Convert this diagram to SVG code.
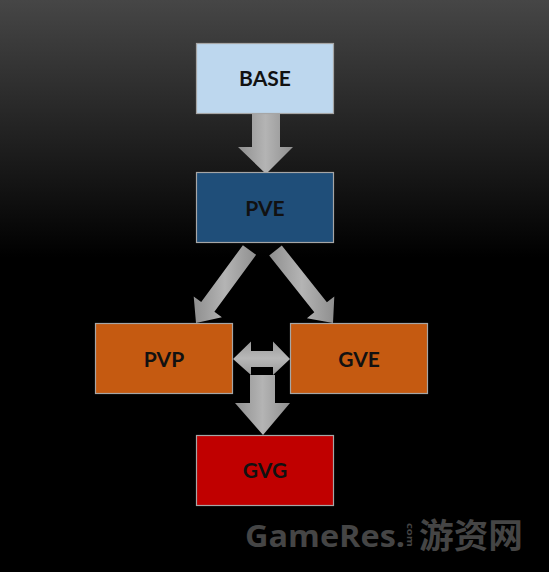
<svg xmlns="http://www.w3.org/2000/svg" width="549" height="572" viewBox="0 0 549 572">
<defs>
<linearGradient id="bg" x1="0" y1="0" x2="0" y2="572" gradientUnits="userSpaceOnUse">
<stop offset="0" stop-color="#464646"/>
<stop offset="0.45" stop-color="#000000"/>
<stop offset="1" stop-color="#000000"/>
</linearGradient>
<linearGradient id="arr" x1="0" y1="0" x2="1" y2="0">
<stop offset="0" stop-color="#8f8f8f"/>
<stop offset="0.5" stop-color="#b4b4b4"/>
<stop offset="1" stop-color="#8f8f8f"/>
</linearGradient>
<linearGradient id="arrv" x1="0" y1="0" x2="0" y2="1">
<stop offset="0" stop-color="#9a9a9a"/>
<stop offset="0.5" stop-color="#b8b8b8"/>
<stop offset="1" stop-color="#9a9a9a"/>
</linearGradient>
</defs>
<style>
.box{stroke:#a6a6a6;stroke-width:1.2}
.lbl{font-family:Lato,"Liberation Sans",sans-serif;font-weight:bold;font-size:21px;fill:#111;text-anchor:middle}
.arrow{fill:url(#arr)}
</style>
<rect x="0" y="0" width="549" height="572" fill="url(#bg)"/>
<g id="connectors">
<polygon class="arrow" points="252,114 280,114 280,147 293,147 266,174 238,147 252,147"/>
<polygon class="arrow" points="242.9,245.2 256.1,254.8 214.4,311.7 221.9,317.2 196,323 193.7,296.6 201.2,302.1"/>
<polygon class="arrow" points="269.2,255.5 281.8,245.5 326.9,302.3 334.3,296.4 333,323 306.9,318.2 314.3,312.3"/>
<polygon fill="url(#arrv)" points="233,359 251,341.5 251,351 273,351 273,341.5 290,359 273,375 273,367 251,367 251,375"/>
<polygon class="arrow" points="250,375 275,375 275,403 290,403 263,435 235,403 250,403"/>
</g>
<g id="base"><rect class="box" x="196.5" y="43.5" width="137" height="70" fill="#bdd7ee"/><text class="lbl" x="265" y="86">BASE</text></g>
<g id="pve"><rect class="box" x="196.5" y="172.5" width="137" height="70" fill="#1f4e79"/><text class="lbl" x="265" y="216">PVE</text></g>
<g id="pvp"><rect class="box" x="95.5" y="323.5" width="137" height="70" fill="#c55a11" stroke="#e07a30"/><text class="lbl" x="164" y="367">PVP</text></g>
<g id="gve"><rect class="box" x="290.5" y="323.5" width="137" height="70" fill="#c55a11"/><text class="lbl" x="359" y="367">GVE</text></g>
<g id="gvg"><rect class="box" x="196.5" y="435.5" width="137" height="70" fill="#c00000"/><text class="lbl" x="265" y="478">GVG</text></g>
<g id="watermark" fill="#454545">
<text x="245" y="547" font-family="'Open Sans',sans-serif" font-weight="bold" font-size="30" textLength="160" lengthAdjust="spacingAndGlyphs">GameRes.</text>
<text transform="translate(407,523) rotate(90)" font-family="'Open Sans',sans-serif" font-weight="bold" font-size="9" textLength="24" lengthAdjust="spacingAndGlyphs">com</text>
<text x="419" y="548" font-family="'Noto Sans CJK SC',sans-serif" font-weight="bold" font-size="34" textLength="104" lengthAdjust="spacingAndGlyphs">游资网</text>
</g>
</svg>
